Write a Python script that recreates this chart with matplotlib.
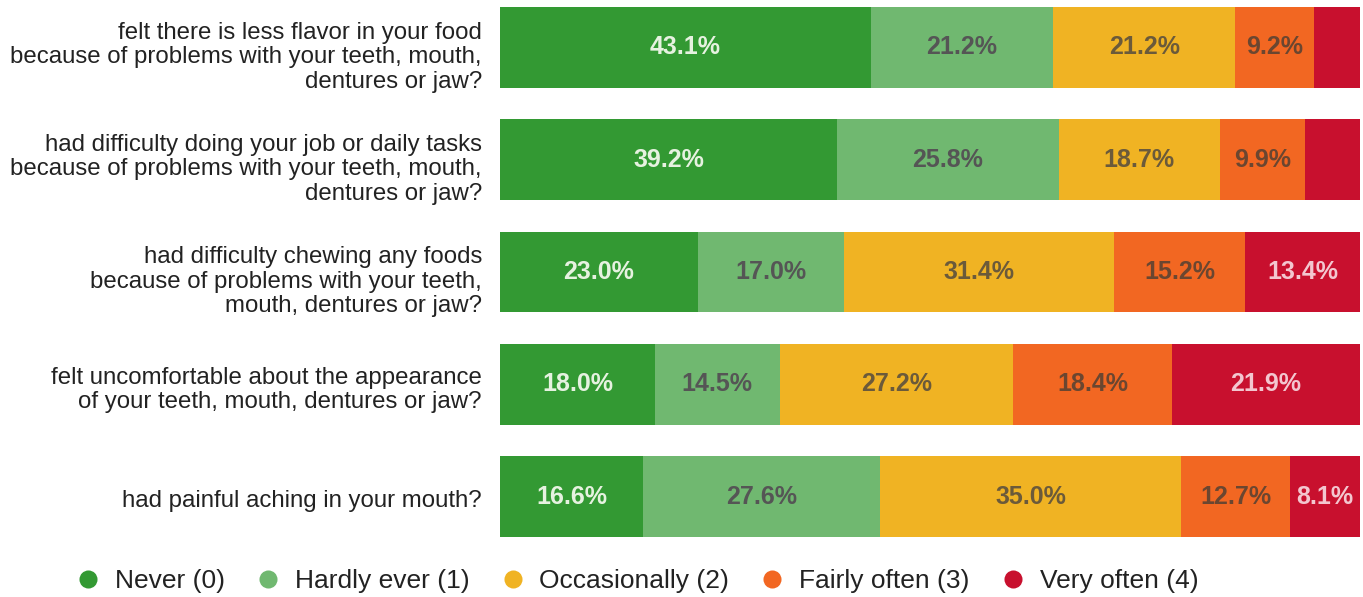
import matplotlib
matplotlib.use("Agg")
import matplotlib.pyplot as plt
from matplotlib.lines import Line2D
from matplotlib.transforms import ScaledTranslation

plt.rcParams['font.family'] = ['Liberation Sans', 'DejaVu Sans']

questions = [
    "felt there is less flavor in your food\nbecause of problems with your teeth, mouth,\ndentures or jaw?",
    "had difficulty doing your job or daily tasks\nbecause of problems with your teeth, mouth,\ndentures or jaw?",
    "had difficulty chewing any foods\nbecause of problems with your teeth,\nmouth, dentures or jaw?",
    "felt uncomfortable about the appearance\nof your teeth, mouth, dentures or jaw?",
    "had painful aching in your mouth?",
]
categories = ["Never (0)", "Hardly ever (1)", "Occasionally (2)", "Fairly often (3)", "Very often (4)"]
never = [43.1, 39.2, 23.0, 18.0, 16.6]
hardly = [21.2, 25.8, 17.0, 14.5, 27.6]
occasionally = [21.2, 18.7, 31.4, 27.2, 35.0]
fairly = [9.2, 9.9, 15.2, 18.4, 12.7]
very = [5.3, 6.4, 13.4, 21.9, 8.1]
show_label = [
    [True, True, True, True, False],
    [True, True, True, True, False],
    [True, True, True, True, True],
    [True, True, True, True, True],
    [True, True, True, True, True],
]

colors = ["#339933", "#70b870", "#f0b323", "#f26722", "#c8102e"]
text_colors = ["#e6f2e0", "#555555", "#6b5a3a", "#6b4630", "#f3c6cf"]

fig = plt.figure(figsize=(13.63, 5.97), dpi=100)
ax = fig.add_axes([500/1363, 60/597, 860/1363, 530/597])

series = [never, hardly, occasionally, fairly, very]
ypos = list(range(len(questions)))
left = [0.0] * len(questions)
for si, vals in enumerate(series):
    ax.barh(ypos, vals, left=left, height=0.72, color=colors[si], edgecolor='none')
    for i, v in enumerate(vals):
        if show_label[i][si]:
            ax.text(left[i] + v / 2, ypos[i], f"{v:.1f}%", ha='center', va='center',
                    fontsize=18, fontweight='bold', color=text_colors[si])
    left = [l + v for l, v in zip(left, vals)]

ax.set_xlim(0, 100)
ax.set_ylim(4.36, -0.36)
ax.set_yticks(ypos)
ax.set_yticklabels(questions, fontsize=17.3, color="#222222", linespacing=1.15)
ax.tick_params(axis='y', length=0, pad=13)
ax.set_xticks([])
for s in ax.spines.values():
    s.set_visible(False)

for lbl in ax.get_yticklabels():
    nlines = lbl.get_text().count("\n") + 1
    dy = 6 if nlines == 3 else 2
    lbl.set_transform(lbl.get_transform() + ScaledTranslation(0, -dy / 100, fig.dpi_scale_trans))

handles = [Line2D([0], [0], marker='o', linestyle='none', markersize=13,
                  markerfacecolor=c, markeredgecolor='none') for c in colors]
fig.legend(handles, categories, loc='center', bbox_to_anchor=(0.468, 1 - 581/597),
           ncol=5, frameon=False, fontsize=19, handlelength=0.8, handletextpad=0.62,
           columnspacing=1.23, labelcolor="#222222")

fig.savefig("out.png", dpi=100)
